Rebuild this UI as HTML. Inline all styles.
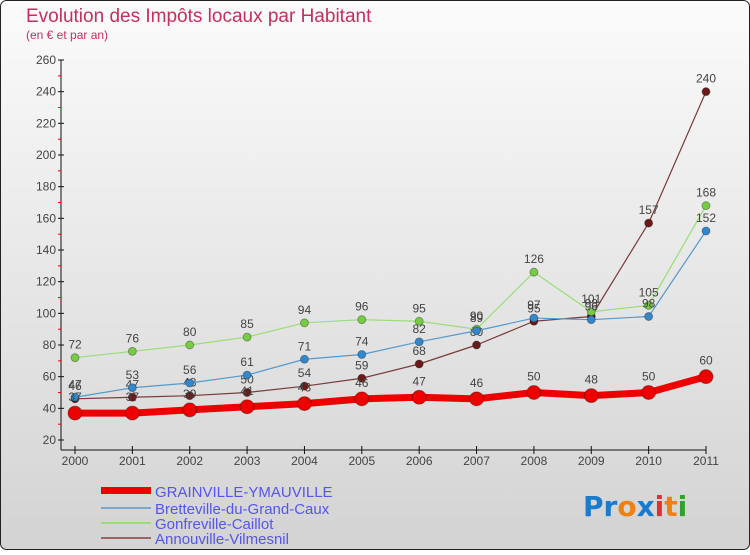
<!DOCTYPE html>
<html><head><meta charset="utf-8"><style>
body{margin:0;width:750px;height:550px;overflow:hidden;font-family:"Liberation Sans",sans-serif}
</style></head><body>
<svg id="chart" width="750" height="550" xmlns="http://www.w3.org/2000/svg" font-family="Liberation Sans, sans-serif">
<defs><linearGradient id="bg" x1="0" y1="0" x2="0" y2="1"><stop offset="0" stop-color="#fbfbfb"/><stop offset="1" stop-color="#d3d3d3"/></linearGradient></defs>
<rect x="0.5" y="0.5" width="749" height="549" rx="6" fill="url(#bg)" stroke="#222"/>
<text x="26" y="22" font-size="19" fill="#c2305c">Evolution des Impôts locaux par Habitant</text>
<text x="26" y="39" font-size="12" fill="#c2305c">(en € et par an)</text>
<g id="axes"></g><g id="series"></g>
<g font-size="15" fill="#5555ee">
<rect x="101" y="487" width="50" height="7" fill="#e00"/><text x="155" y="497">GRAINVILLE-YMAUVILLE</text>
<rect x="101" y="507" width="50" height="2" fill="#7aa8cc"/><text x="155" y="514">Bretteville-du-Grand-Caux</text>
<rect x="101" y="522" width="50" height="2" fill="#99dd77"/><text x="155" y="529">Gonfreville-Caillot</text>
<rect x="101" y="537" width="50" height="2" fill="#996666"/><text x="155" y="544">Annouville-Vilmesnil</text>
</g>
<g font-size="28" font-weight="bold" font-family="DejaVu Sans, sans-serif">
<text x="583" y="516"><tspan fill="#1a7acc">P</tspan><tspan fill="#1a7acc">r</tspan><tspan fill="#f08010">o</tspan><tspan fill="#1a7acc">x</tspan><tspan fill="#e03030">i</tspan><tspan fill="#f08010">t</tspan><tspan fill="#30a030">i</tspan></text>
</g>
</svg>
<script>
const years=["2000","2001","2002","2003","2004","2005","2006","2007","2008","2009","2010","2011"];
const yTicks=[20,40,60,80,100,120,140,160,180,200,220,240,260];
const grainville=[37,37,39,41,43,46,47,46,50,48,50,60];
const bretteville=[47,53,56,61,71,74,82,89,97,96,98,152];
const gonfreville=[72,76,80,85,94,96,95,90,126,101,105,168];
const annouville=[46,47,48,50,54,59,68,80,95,98,157,240];
const NS="http://www.w3.org/2000/svg";
const xS=i=>75+i*(706-75)/11;
const yS=v=>440-(v-20)*(380/240);
function mk(p,t,a){const e=document.createElementNS(NS,t);for(const k in a)e.setAttribute(k,a[k]);p.appendChild(e);return e;}
const ax=document.getElementById('axes');
const yl=mk(ax,'line',{x1:61,y1:60,x2:61,y2:450,stroke:'#111'});


const xl=mk(ax,'line',{x1:61,y1:450,x2:706,y2:450,stroke:'#111'});


yTicks.forEach((v,i)=>{const y=yS(v);
mk(ax,'line',{x1:58,y1:y,x2:64,y2:y,stroke:'#111'});
if(i<yTicks.length-1){mk(ax,'line',{x1:58,y1:y-15.8,x2:61,y2:y-15.8,stroke:'#e00'});}
const t=mk(ax,'text',{x:56,y:y+4,'font-size':12,'text-anchor':'end',fill:'#444'});t.textContent=v;

});
years.forEach((yr,i)=>{const x=xS(i);mk(ax,'line',{x1:x,y1:446,x2:x,y2:454,stroke:'#111'});
const t=mk(ax,'text',{x:x,y:465,'font-size':12,'text-anchor':'middle',fill:'#444'});t.textContent=yr;

});
const sg=document.getElementById('series');
function draw(data,name,col,dot,w,r){
const g=mk(sg,'g',{});


mk(g,'polyline',{points:data.map((v,i)=>xS(i)+','+yS(v)).join(' '),fill:'none',stroke:col,'stroke-width':w,'stroke-linejoin':'round'});
data.forEach((v,i)=>{const c=mk(g,'circle',{cx:xS(i),cy:yS(v),r:r,fill:dot,stroke:'rgba(0,0,0,0.3)'});


const t=mk(g,'text',{x:xS(i),y:yS(v)-r-5,'font-size':12,'text-anchor':'middle',fill:'#444'});t.textContent=v;

});}
draw(annouville,'annouville-series','#7a3a3a','#6b1a1a',1.2,4);
draw(gonfreville,'gonfreville-series','#99dd77','#77cc44',1.2,4);
draw(bretteville,'bretteville-series','#5599cc','#3388cc',1.2,4);
draw(grainville,'grainville-series','#ee0000','#ee0000',7,7);
</script>
</body></html>
